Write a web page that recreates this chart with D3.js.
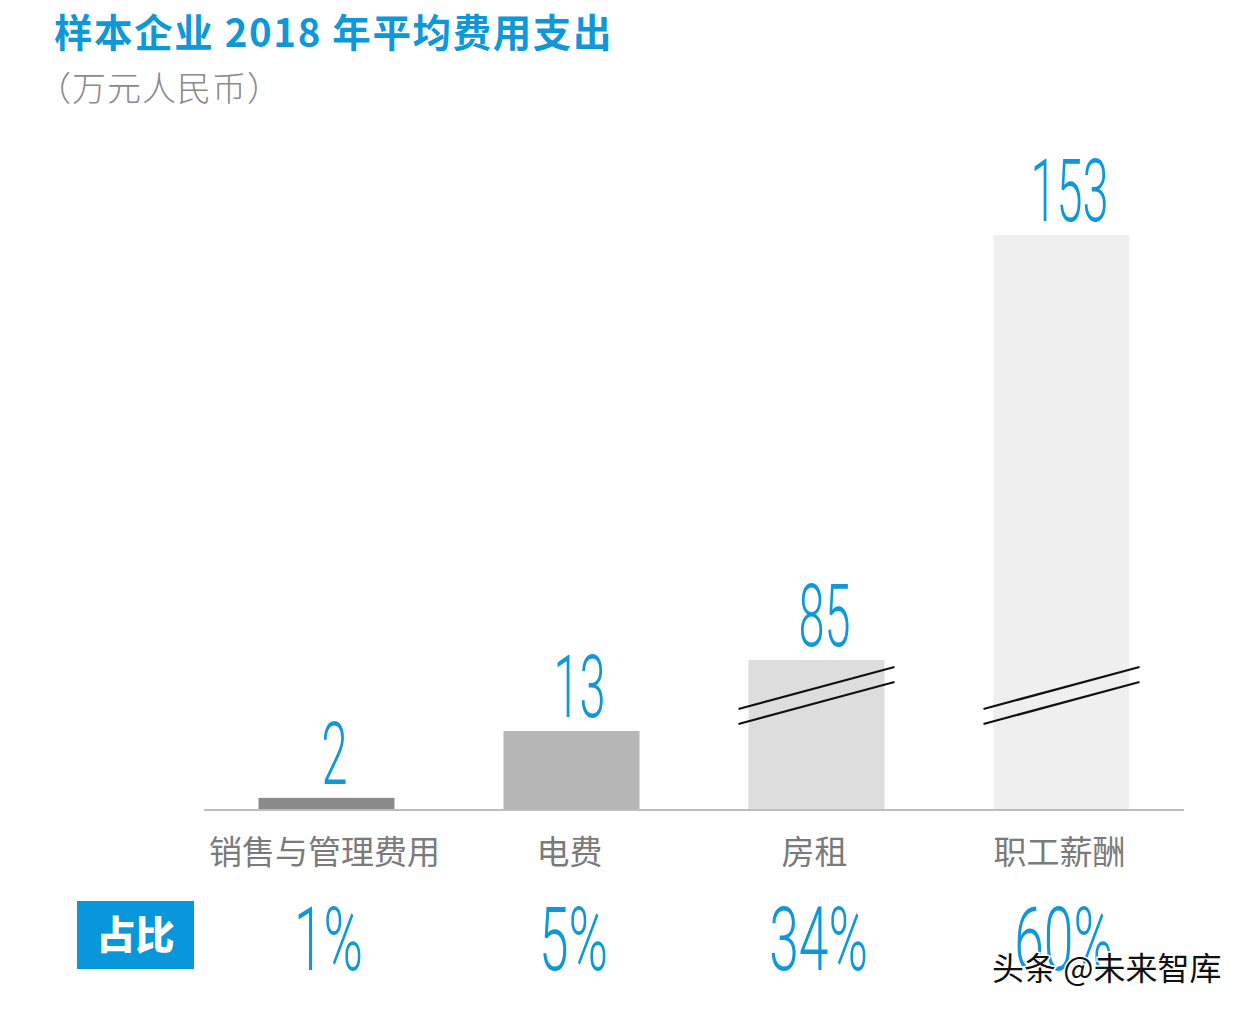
<!DOCTYPE html>
<html>
<head>
<meta charset="utf-8">
<script src="https://cdn.jsdelivr.net/npm/d3@7"></script>
<style>
  body { margin: 0; background: #fff; }
  svg { display: block; }
</style>
</head>
<body>
<div id="chartArea"></div>
<script>
// chart data
var categories = ['销售与管理费用', '电费', '房租', '职工薪酬'];
var values = [2, 13, 85, 153];
var shares = ['1%', '5%', '34%', '60%'];
var broken = [false, false, true, true];
var barColors = ['#8a8a8a', '#b5b6b5', '#dcdddc', '#efefef'];

var title = '样本企业 2018 年平均费用支出';
var subtitle = '（万元人民币）';
var shareLabel = '占比';
var watermark = '头条 @未来智库';

var w = 1248, h = 1012;
var blue = '#0f98d9';

var svg = d3.select('#chartArea').append('svg')
    .attr('width', w)
    .attr('height', h);

// band scale for the four bars
var xScale = d3.scaleBand()
    .domain(categories)
    .range([204, 1184])
    .paddingInner(0.445)
    .paddingOuter(0.2225);

// broken axis: the two tall bars are cut, so the scale is piecewise
var yScale = d3.scaleLinear()
    .domain([0, 13, 85, 153])
    .range([810, 731, 660, 235]);

var rows = categories.map(function(c, i) {
    return { cat: c, value: values[i], share: shares[i], broken: broken[i], color: barColors[i] };
});

// title
svg.append('text')
    .attr('x', 54)
    .attr('y', 47)
    .attr('font-family', '"Noto Sans CJK SC", "Noto Sans", sans-serif')
    .attr('font-weight', 700)
    .attr('font-size', 38.5)
    .attr('letter-spacing', 1.6)
    .attr('fill', blue)
    .text(title);

svg.append('text')
    .attr('x', 37)
    .attr('y', 101)
    .attr('font-family', '"Noto Sans CJK SC", sans-serif')
    .attr('font-weight', 300)
    .attr('font-size', 34)
    .attr('letter-spacing', 1)
    .attr('fill', '#8a8a8a')
    .text(subtitle);

// bars
svg.selectAll('rect.bar')
    .data(rows)
    .enter()
    .append('rect')
    .attr('class', 'bar')
    .attr('x', function(d) { return xScale(d.cat); })
    .attr('y', function(d) { return yScale(d.value); })
    .attr('width', xScale.bandwidth())
    .attr('height', function(d) { return yScale(0) - yScale(d.value); })
    .attr('fill', function(d) { return d.color; });

// baseline
svg.append('line')
    .attr('x1', 204)
    .attr('x2', 1184)
    .attr('y1', yScale(0))
    .attr('y2', yScale(0))
    .attr('stroke', '#bdbdbd')
    .attr('stroke-width', 2);

// break marks on the cut bars
var breakRows = rows.filter(function(d) { return d.broken; });
[0, 15].forEach(function(off) {
    svg.selectAll('line.brk' + off)
        .data(breakRows)
        .enter()
        .append('line')
        .attr('x1', function(d) { return xScale(d.cat) - 10; })
        .attr('x2', function(d) { return xScale(d.cat) + xScale.bandwidth() + 10; })
        .attr('y1', 709 + off)
        .attr('y2', 667 + off)
        .attr('stroke', '#111')
        .attr('stroke-width', 2.2);
});

// condensed thin numbers (no condensed font available, so squeeze horizontally)
function condensed(sel, size) {
    sel.attr('font-family', 'Roboto, sans-serif')
        .attr('font-weight', 300)
        .attr('font-size', size)
        .attr('fill', blue)
        .attr('text-anchor', 'middle');
}

svg.selectAll('text.val')
    .data(rows)
    .enter()
    .append('text')
    .attr('class', 'val')
    .attr('transform', function(d) {
        var cx = xScale(d.cat) + xScale.bandwidth() / 2 + 8;
        return 'translate(' + cx + ',' + (yScale(d.value) - 14) + ') scale(0.54,1)';
    })
    .call(condensed, 87)
    .text(function(d) { return d.value; });

// category labels
svg.selectAll('text.cat')
    .data(rows)
    .enter()
    .append('text')
    .attr('class', 'cat')
    .attr('x', function(d) { return xScale(d.cat) + xScale.bandwidth() / 2 - 2; })
    .attr('y', 864)
    .attr('text-anchor', 'middle')
    .attr('font-family', '"Noto Sans CJK SC", sans-serif')
    .attr('font-size', 33)
    .attr('fill', '#7a7a7a')
    .text(function(d) { return d.cat; });

// share row
svg.append('rect')
    .attr('x', 77)
    .attr('y', 901)
    .attr('width', 117)
    .attr('height', 68)
    .attr('fill', '#0897da');

svg.append('text')
    .attr('x', 135.5)
    .attr('y', 949)
    .attr('text-anchor', 'middle')
    .attr('font-family', '"Noto Sans CJK SC", sans-serif')
    .attr('font-weight', 900)
    .attr('font-size', 39)
    .attr('fill', '#fff')
    .text(shareLabel);

svg.selectAll('text.share')
    .data(rows)
    .enter()
    .append('text')
    .attr('class', 'share')
    .attr('transform', function(d) {
        var cx = xScale(d.cat) + xScale.bandwidth() / 2 + 2;
        return 'translate(' + cx + ',970) scale(0.6,1)';
    })
    .call(condensed, 89)
    .text(function(d) { return d.share; });

// watermark
svg.append('text')
    .attr('x', 992)
    .attr('y', 980)
    .attr('font-family', '"Noto Sans CJK SC", sans-serif')
    .attr('font-size', 32)
    .attr('fill', '#111')
    .attr('stroke', '#fff')
    .attr('stroke-width', 3)
    .attr('paint-order', 'stroke')
    .text(watermark);
</script>
</body>
</html>
